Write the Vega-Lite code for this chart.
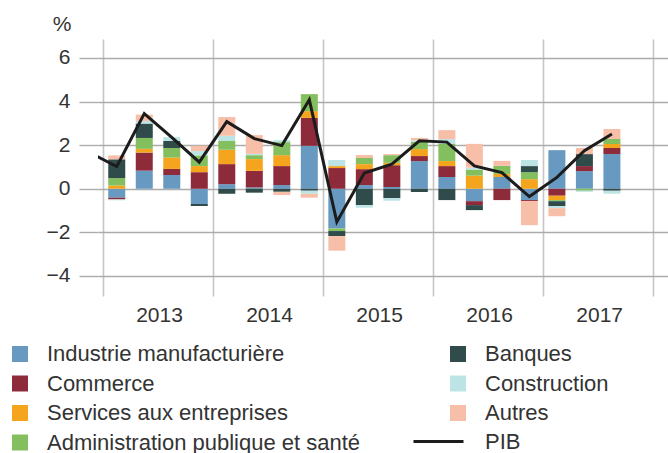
{
  "$schema": "https://vega.github.io/schema/vega-lite/v6.json",
  "width": 570,
  "height": 257,
  "autosize": {"type": "none"},
  "padding": {"left": 98, "top": 39, "right": 0, "bottom": 157},
  "background": "white",
  "datasets": {
    "bars": [
      {"t": 2013.125, "Industrie manufacturière": -0.41, "Commerce": -0.08, "Services aux entreprises": 0.15, "Administration publique et santé": 0.34, "Banques": 0.86, "Construction": -0.04, "Autres": 0.18},
      {"t": 2013.375, "Industrie manufacturière": 0.83, "Commerce": 0.83, "Services aux entreprises": 0.17, "Administration publique et santé": 0.5, "Banques": 0.66, "Construction": 0.12, "Autres": 0.29},
      {"t": 2013.625, "Industrie manufacturière": 0.63, "Commerce": 0.28, "Services aux entreprises": 0.52, "Administration publique et santé": 0.44, "Banques": 0.32, "Construction": 0.18, "Autres": 0},
      {"t": 2013.875, "Industrie manufacturière": -0.7, "Commerce": 0.76, "Services aux entreprises": 0.28, "Administration publique et santé": 0.49, "Banques": -0.09, "Construction": 0.2, "Autres": 0.24},
      {"t": 2014.125, "Industrie manufacturière": 0.21, "Commerce": 0.92, "Services aux entreprises": 0.66, "Administration publique et santé": 0.4, "Banques": -0.23, "Construction": 0.24, "Autres": 0.86},
      {"t": 2014.375, "Industrie manufacturière": 0.06, "Commerce": 0.76, "Services aux entreprises": 0.54, "Administration publique et santé": 0.18, "Banques": -0.18, "Construction": 0.06, "Autres": 0.86},
      {"t": 2014.625, "Industrie manufacturière": 0.17, "Commerce": 0.87, "Services aux entreprises": 0.5, "Administration publique et santé": 0.6, "Banques": -0.14, "Construction": 0.09, "Autres": -0.15},
      {"t": 2014.875, "Industrie manufacturière": 1.97, "Commerce": 1.28, "Services aux entreprises": 0.31, "Administration publique et santé": 0.78, "Banques": -0.09, "Construction": -0.14, "Autres": -0.18},
      {"t": 2015.125, "Industrie manufacturière": -1.82, "Commerce": 0.95, "Services aux entreprises": 0.09, "Administration publique et santé": -0.12, "Banques": -0.23, "Construction": 0.28, "Autres": -0.67},
      {"t": 2015.375, "Industrie manufacturière": 0.17, "Commerce": 0.73, "Services aux entreprises": 0.23, "Administration publique et santé": 0.28, "Banques": -0.75, "Construction": -0.12, "Autres": 0.14},
      {"t": 2015.625, "Industrie manufacturière": 0.08, "Commerce": 1.0, "Services aux entreprises": 0.11, "Administration publique et santé": 0.35, "Banques": -0.43, "Construction": -0.12, "Autres": 0.05},
      {"t": 2015.875, "Industrie manufacturière": 1.27, "Commerce": 0.23, "Services aux entreprises": 0.32, "Administration publique et santé": 0.34, "Banques": -0.15, "Construction": 0.06, "Autres": 0.11},
      {"t": 2016.125, "Industrie manufacturière": 0.54, "Commerce": 0.5, "Services aux entreprises": 0.23, "Administration publique et santé": 0.8, "Banques": -0.52, "Construction": 0.21, "Autres": 0.41},
      {"t": 2016.375, "Industrie manufacturière": -0.57, "Commerce": -0.18, "Services aux entreprises": 0.6, "Administration publique et santé": 0.28, "Banques": -0.23, "Construction": 0.09, "Autres": 1.09},
      {"t": 2016.625, "Industrie manufacturière": 0.54, "Commerce": -0.52, "Services aux entreprises": 0.14, "Administration publique et santé": 0.37, "Banques": 0, "Construction": 0, "Autres": 0.23},
      {"t": 2016.875, "Industrie manufacturière": -0.52, "Commerce": -0.05, "Services aux entreprises": 0.44, "Administration publique et santé": 0.32, "Banques": 0.28, "Construction": 0.28, "Autres": -1.1},
      {"t": 2017.125, "Industrie manufacturière": 1.77, "Commerce": -0.32, "Services aux entreprises": -0.2, "Administration publique et santé": -0.05, "Banques": -0.23, "Construction": -0.09, "Autres": -0.37},
      {"t": 2017.375, "Industrie manufacturière": 0.81, "Commerce": 0.23, "Services aux entreprises": 0, "Administration publique et santé": -0.09, "Banques": 0.55, "Construction": -0.05, "Autres": 0.28},
      {"t": 2017.625, "Industrie manufacturière": 1.59, "Commerce": 0.28, "Services aux entreprises": 0.18, "Administration publique et santé": 0.23, "Banques": -0.09, "Construction": -0.14, "Autres": 0.46}
    ],
    "pib": [
      {"t": 2012.875, "v": 1.67},
      {"t": 2013.125, "v": 1.02},
      {"t": 2013.375, "v": 3.45},
      {"t": 2013.625, "v": 2.36},
      {"t": 2013.875, "v": 1.22},
      {"t": 2014.125, "v": 3.08},
      {"t": 2014.375, "v": 2.3},
      {"t": 2014.625, "v": 1.98},
      {"t": 2014.875, "v": 4.08},
      {"t": 2015.125, "v": -1.52},
      {"t": 2015.375, "v": 0.72},
      {"t": 2015.625, "v": 1.13},
      {"t": 2015.875, "v": 2.2},
      {"t": 2016.125, "v": 2.14},
      {"t": 2016.375, "v": 1.05},
      {"t": 2016.625, "v": 0.74},
      {"t": 2016.875, "v": -0.36},
      {"t": 2017.125, "v": 0.52},
      {"t": 2017.375, "v": 1.75},
      {"t": 2017.625, "v": 2.51}
    ]
  },
  "encoding": {
    "x": {
      "field": "t",
      "type": "quantitative",
      "scale": {"domain": [2013, 2018.0893], "nice": false, "zero": false},
      "axis": {
        "values": [2013, 2014, 2015, 2016, 2017, 2018],
        "grid": true,
        "gridColor": "#c6c6c6",
        "gridWidth": 1.6,
        "ticks": false,
        "domain": false,
        "labelOffset": 56,
        "labelPadding": 8,
        "labelBaseline": "top",
        "labelFlush": false,
        "labelOverlap": false,
        "labelExpr": "datum.value == 2018 ? '' : '' + datum.value",
        "title": null
      }
    },
    "y": {
      "field": "v",
      "type": "quantitative",
      "scale": {"domain": [-4.92, 6.87], "nice": false, "zero": false},
      "axis": {
        "values": [-4, -2, 0, 2, 4, 6],
        "grid": true,
        "gridColor": "#ababab",
        "gridWidth": 1.4,
        "tickColor": "#ababab",
        "tickWidth": 1.4,
        "tickSize": 19,
        "domain": false,
        "labelPadding": 9,
        "title": "%",
        "titleAngle": 0,
        "titleAlign": "right",
        "titleBaseline": "alphabetic",
        "titleX": -27,
        "titleY": -9
      }
    }
  },
  "layer": [
    {
      "data": {"name": "bars"},
      "transform": [
        {"fold": ["Industrie manufacturière", "Commerce", "Services aux entreprises", "Administration publique et santé", "Banques", "Construction", "Autres"], "as": ["s", "v"]},
        {"calculate": "indexof(['Industrie manufacturière','Commerce','Services aux entreprises','Administration publique et santé','Banques','Construction','Autres'], datum.s)", "as": "k"}
      ],
      "mark": {"type": "bar", "width": 17},
      "encoding": {
        "color": {
          "field": "s",
          "type": "nominal",
          "scale": {
            "domain": ["Industrie manufacturière", "Commerce", "Services aux entreprises", "Administration publique et santé", "Banques", "Construction", "Autres"],
            "range": ["#6899c0", "#8e2b3a", "#f5a51d", "#83bf5e", "#2f4c4b", "#bde4e4", "#f8bfa8"]
          },
          "legend": {
            "orient": "none",
            "legendX": -89,
            "legendY": 304,
            "columns": 2,
            "columnPadding": 86,
            "rowPadding": 7.5,
            "symbolType": "square",
            "symbolSize": 256,
            "symbolStrokeWidth": 0,
            "symbolOpacity": 1,
            "labelFontSize": 22,
            "labelOffset": 16,
            "labelColor": "#333333",
            "labelLimit": 0,
            "title": null
          }
        },
        "order": {"field": "k", "type": "quantitative", "sort": "ascending"}
      }
    },
    {
      "data": {"name": "pib"},
      "mark": {"type": "line", "clip": true, "strokeWidth": 3},
      "encoding": {
        "stroke": {
          "datum": "PIB",
          "type": "nominal",
          "scale": {"range": ["#1c1c1c"]},
          "legend": {
            "orient": "none",
            "legendX": 314,
            "legendY": 376,
            "symbolType": "stroke",
            "symbolSize": 2500,
            "symbolStrokeWidth": 3,
            "labelFontSize": 22,
            "labelOffset": 20,
            "labelColor": "#333333",
            "title": null
          }
        }
      }
    }
  ],
  "config": {
    "font": "Liberation Sans",
    "view": {"stroke": null},
    "axis": {
      "labelFont": "Liberation Sans",
      "labelFontSize": 21,
      "labelColor": "#333333",
      "titleFont": "Liberation Sans",
      "titleFontSize": 21,
      "titleFontWeight": "normal",
      "titleColor": "#333333"
    },
    "legend": {"labelFont": "Liberation Sans"}
  }
}
